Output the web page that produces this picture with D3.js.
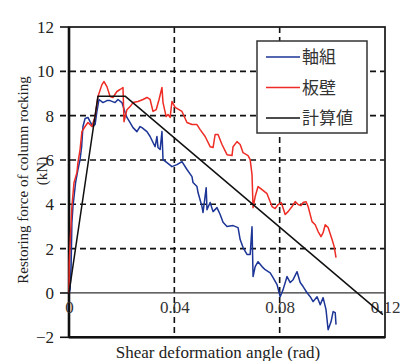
<!DOCTYPE html>
<html><head><meta charset="utf-8">
<script src="https://cdn.jsdelivr.net/npm/d3@7"></script>
<style>body{margin:0;background:#fff}svg{display:block}</style>
</head><body>
<script>
const seriesNames = ["軸組", "板壁", "計算値"];
const seriesColors = ["#1c3596", "#ee2b24", "#111111"];
const xTicks = [0, 0.04, 0.08, 0.12];
const xTickLabels = ["0", "0.04", "0.08", "0.12"];
const yTicks = [-2, 0, 2, 4, 6, 8, 10, 12];
const xGrid = [0.04, 0.08];
const yGrid = [2, 4, 6, 8, 10];

const blue = [[0,0],[0.0004,0.15],[0.0008,1.19],[0.0011,3.17],[0.0015,3.90],[0.0025,4.98],[0.0034,5.57],[0.0042,6.02],[0.0048,6.60],[0.0053,7.51],[0.0061,7.87],[0.0072,7.92],[0.0080,7.73],[0.0091,7.51],[0.0099,7.60],[0.0106,8.19],[0.0114,8.73],[0.0129,8.59],[0.0144,8.68],[0.0156,8.68],[0.0175,8.59],[0.0186,8.73],[0.0201,8.59],[0.0213,8.14],[0.0220,7.92],[0.0232,7.69],[0.0243,7.46],[0.0258,7.28],[0.0270,7.51],[0.0277,7.46],[0.0296,7.28],[0.0308,7.06],[0.0319,6.79],[0.0327,6.60],[0.0334,7.06],[0.0338,6.56],[0.0346,6.47],[0.0353,7.28],[0.0357,6.02],[0.0372,5.88],[0.0391,5.70],[0.0410,5.79],[0.0429,5.93],[0.0448,5.57],[0.0467,5.25],[0.0471,4.98],[0.0486,4.80],[0.0490,4.53],[0.0505,3.90],[0.0509,3.63],[0.0521,4.75],[0.0524,3.76],[0.0536,4.08],[0.0547,3.67],[0.0562,3.85],[0.0574,3.54],[0.0585,3.19],[0.0600,3.00],[0.0623,3.04],[0.0642,2.95],[0.0650,2.41],[0.0661,2.05],[0.0676,1.74],[0.0688,1.74],[0.0695,2.99],[0.0699,0.74],[0.0707,1.19],[0.0718,1.41],[0.0733,1.19],[0.0745,1.05],[0.0764,0.91],[0.0775,0.69],[0.0790,0.38],[0.0802,-0.17],[0.0813,0.15],[0.0828,0.74],[0.0840,0.47],[0.0851,0.60],[0.0866,0.96],[0.0878,0.47],[0.0889,0.29],[0.0904,0.01],[0.0916,-0.17],[0.0927,-0.39],[0.0942,-0.17],[0.0954,-0.53],[0.0965,-0.21],[0.0976,-0.75],[0.0984,-1.66],[0.0995,-1.30],[0.1003,-0.84],[0.1011,-0.89],[0.1014,-1.43]];

const red = [[0,0],[0.0001,1.37],[0.0004,2.18],[0.0011,3.90],[0.0019,4.98],[0.0030,5.43],[0.0034,5.88],[0.0042,6.47],[0.0049,7.28],[0.0061,7.51],[0.0072,7.69],[0.0087,7.51],[0.0099,7.96],[0.0110,8.86],[0.0125,9.40],[0.0133,9.54],[0.0144,9.31],[0.0156,8.86],[0.0167,8.82],[0.0182,9.09],[0.0194,9.18],[0.0205,9.27],[0.0209,7.73],[0.0220,8.27],[0.0232,8.41],[0.0243,8.59],[0.0262,8.64],[0.0281,8.73],[0.0296,8.82],[0.0308,8.73],[0.0319,8.19],[0.0331,8.27],[0.0342,8.73],[0.0353,9.27],[0.0357,8.59],[0.0369,7.96],[0.0376,8.05],[0.0384,7.92],[0.0391,8.64],[0.0403,8.37],[0.0429,8.19],[0.0448,7.69],[0.0467,7.60],[0.0486,7.60],[0.0498,7.37],[0.0517,7.06],[0.0536,6.60],[0.0547,6.56],[0.0555,7.15],[0.0566,7.15],[0.0581,6.70],[0.0600,6.24],[0.0619,6.20],[0.0623,6.60],[0.0638,6.83],[0.0650,6.70],[0.0661,6.33],[0.0680,6.20],[0.0688,6.02],[0.0695,5.34],[0.0699,3.85],[0.0707,4.35],[0.0718,4.80],[0.0733,4.66],[0.0752,4.48],[0.0771,3.90],[0.0783,3.81],[0.0794,3.99],[0.0806,4.08],[0.0821,3.54],[0.0832,3.67],[0.0847,3.90],[0.0859,4.12],[0.0870,3.99],[0.0881,3.94],[0.0889,4.08],[0.0900,4.12],[0.0908,3.90],[0.0923,3.22],[0.0935,3.08],[0.0946,2.77],[0.0957,2.54],[0.0965,2.72],[0.0973,3.08],[0.0984,2.95],[0.0999,2.41],[0.1007,2.09],[0.1014,1.60]];

const calc = [[0,0],[0.011,8.88],[0.0213,8.88],[0.1192,-0.98]];

const W = 400, H = 361;
const svg = d3.select("body").append("svg").attr("width", W).attr("height", H);
const x = d3.scaleLinear().domain([0, 0.12]).range([69, 385]);
const y = d3.scaleLinear().domain([-2, 12]).range([337.3, 27]);
const serif = "'Liberation Serif','Times New Roman',serif";

// grid
const g = svg.append("g");
g.selectAll(".hg").data(yGrid).join("line")
  .attr("x1", x(0) - 9).attr("x2", x(0.12)).attr("y1", d => y(d)).attr("y2", d => y(d))
  .attr("stroke", "#111").attr("stroke-width", 1.6).attr("stroke-dasharray", "6,4");
g.selectAll(".vg").data(xGrid).join("line")
  .attr("x1", d => x(d)).attr("x2", d => x(d)).attr("y1", y(12)).attr("y2", y(-2))
  .attr("stroke", "#111").attr("stroke-width", 1.6).attr("stroke-dasharray", "6,4");
// y ticks outside
g.selectAll(".yt").data([-2, 0, 12]).join("line")
  .attr("x1", x(0) - 9).attr("x2", x(0)).attr("y1", d => y(d)).attr("y2", d => y(d))
  .attr("stroke", "#111").attr("stroke-width", 1.6);
// zero line
g.append("line").attr("x1", x(0)).attr("x2", x(0.12)).attr("y1", y(0)).attr("y2", y(0))
  .attr("stroke", "#333").attr("stroke-width", 1.3);

// frame
svg.append("rect").attr("x", x(0)).attr("y", y(12)).attr("width", x(0.12) - x(0)).attr("height", y(-2) - y(12))
  .attr("fill", "none").attr("stroke", "#222").attr("stroke-width", 1.8);
svg.append("line").attr("x1", x(0)).attr("x2", x(0)).attr("y1", y(12)).attr("y2", y(-2))
  .attr("stroke", "#111").attr("stroke-width", 2.6);
svg.append("line").attr("x1", x(0)).attr("x2", x(0.12)).attr("y1", y(-2)).attr("y2", y(-2))
  .attr("stroke", "#111").attr("stroke-width", 2.4);

// y axis labels
const yAxis = d3.axisLeft(y).tickValues(yTicks).tickSize(0).tickPadding(15).tickFormat(d3.format("d"));
const ya = svg.append("g").attr("transform", `translate(${x(0)},0)`).call(yAxis);
ya.select(".domain").remove();
ya.selectAll("text").attr("font-family", serif).attr("font-size", 17).attr("fill", "#222");

// x tick labels inside plot between 0 and -2
const xAxis = d3.axisBottom(x).tickValues(xTicks).tickSize(0).tickPadding(0).tickFormat((d, i) => xTickLabels[i]);
const xa = svg.append("g").attr("transform", `translate(0,${y(0) + 15})`).call(xAxis);
xa.select(".domain").remove();
xa.selectAll("text").attr("font-family", serif).attr("font-size", 17).attr("fill", "#333").attr("dy", "0.3em");

// series
const line = d3.line().x(d => x(d[0])).y(d => y(d[1]));
[blue, red, calc].forEach((s, i) => {
  svg.append("path").datum(s).attr("d", line).attr("fill", "none")
    .attr("stroke", seriesColors[i]).attr("stroke-width", 1.5).attr("stroke-linejoin", "round");
});

// legend
const lg = svg.append("g");
lg.append("rect").attr("x", 257).attr("y", 41).attr("width", 110).attr("height", 92)
  .attr("fill", "#fff").attr("stroke", "#333").attr("stroke-width", 1.5);
seriesNames.forEach((n, i) => {
  const yy = 57 + i * 30.5;
  lg.append("line").attr("x1", 266).attr("x2", 300).attr("y1", yy).attr("y2", yy)
    .attr("stroke", seriesColors[i]).attr("stroke-width", 1.5);
  lg.append("text").attr("x", 302).attr("y", yy).attr("dy", "0.36em")
    .attr("font-family", "'Noto Sans CJK JP'").attr("font-size", 17).attr("fill", "#333").text(n);
});

// axis titles
svg.append("text").attr("x", 218).attr("y", 352).attr("dy", "0.35em").attr("text-anchor", "middle")
  .attr("font-family", serif).attr("font-size", 17).attr("fill", "#222").text("Shear deformation angle (rad)");
svg.append("text").attr("transform", "translate(23,180) rotate(-90)").attr("dy", "0.35em").attr("text-anchor", "middle")
  .attr("font-family", serif).attr("font-size", 15).attr("fill", "#222").text("Restoring force of column rocking");
svg.append("text").attr("transform", "translate(42,171) rotate(-90)").attr("dy", "0.35em").attr("text-anchor", "middle")
  .attr("font-family", serif).attr("font-size", 15).attr("fill", "#222").text("(kN)");
</script>
</body></html>
